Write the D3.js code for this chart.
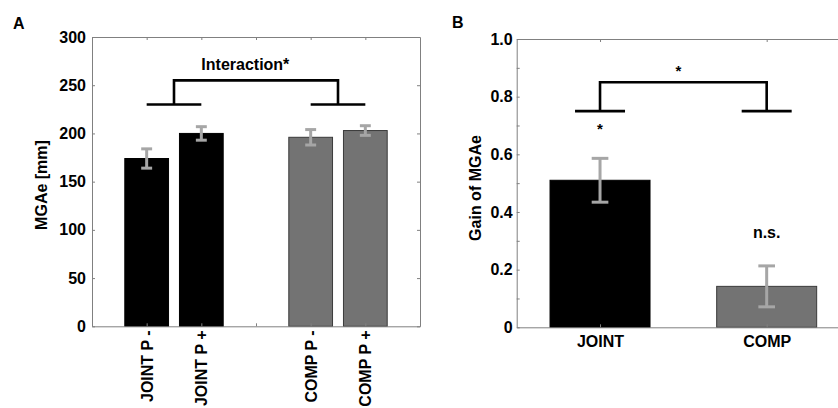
<!DOCTYPE html>
<html>
<head>
<meta charset="utf-8">
<script src="https://cdn.jsdelivr.net/npm/d3@7"></script>
<style>
  body { margin: 0; background: #fff; }
  svg { display: block; font-family: "Liberation Sans", Arial, sans-serif; font-weight: bold; }
  .axis path, .axis line { stroke: #808080; }
  .axis text { font-size: 16px; font-weight: bold; fill: #000; font-family: "Liberation Sans", Arial, sans-serif; }
</style>
</head>
<body>
<svg id="chart" width="838" height="408"></svg>
<script>
// Panel A: MGAe per condition
const slotsA = ["JOINT P -", "JOINT P +", "", "COMP P -", "COMP P +"];
const barsA = ["JOINT P -", "JOINT P +", "COMP P -", "COMP P +"];
const meanA = [174, 200, 196, 203];
const errA = [10, 7, 8, 5];
const groupA = ["JOINT", "JOINT", "COMP", "COMP"];
const ticksA = [0, 50, 100, 150, 200, 250, 300];

// Panel B: gain of MGAe
const barsB = ["JOINT", "COMP"];
const meanB = [0.51, 0.142];
const errB = [0.076, 0.071];
const ticksB = [0, 0.1, 0.2, 0.3, 0.4, 0.5, 0.6, 0.7, 0.8, 0.9, 1.0];

const fillColor = { JOINT: "#000000", COMP: "#737373" };
const edgeColor = { JOINT: "#000000", COMP: "#3a3a3a" };
const errColor = "#a6a6a6";

const svg = d3.select("#chart");
svg.append("rect").attr("width", 838).attr("height", 408).attr("fill", "#fff");

// ---------- Panel A ----------
const xA = d3.scalePoint().domain(slotsA).range([92, 420]).padding(1);
const yA = d3.scaleLinear().domain([0, 300]).range([326.3, 37]);
const stepA = xA.step();

const gA = svg.append("g");

const axA = [
  gA.append("g").attr("class", "axis").attr("transform", "translate(92,0)")
    .call(d3.axisLeft(yA).tickValues(ticksA).tickSize(-3).tickSizeOuter(0).tickPadding(6)),
  gA.append("g").attr("class", "axis").attr("transform", "translate(420,0)")
    .call(d3.axisRight(yA).tickValues(ticksA).tickSize(-3).tickSizeOuter(0).tickFormat("")),
  gA.append("g").attr("class", "axis").attr("transform", "translate(0,37)")
    .call(d3.axisTop(xA).tickSize(-3).tickSizeOuter(0).tickFormat("")),
  gA.append("g").attr("class", "axis").attr("transform", `translate(0,${yA(0)})`)
    .call(d3.axisBottom(xA).tickSize(-3).tickSizeOuter(0))
];
axA[3].selectAll(".tick text")
  .attr("transform", "rotate(-90)")
  .attr("text-anchor", "end")
  .attr("x", -4)
  .attr("y", 0)
  .attr("dy", "0.35em");

gA.selectAll(".barA")
  .data(barsA)
  .enter().append("rect")
  .attr("class", "barA")
  .attr("x", d => xA(d) - stepA * 0.4)
  .attr("width", stepA * 0.8)
  .attr("y", (d, i) => yA(meanA[i]))
  .attr("height", (d, i) => yA(0) - yA(meanA[i]))
  .attr("fill", (d, i) => fillColor[groupA[i]])
  .attr("stroke", (d, i) => edgeColor[groupA[i]])
  .attr("stroke-width", 1);

const errGA = gA.selectAll(".errA").data(barsA).enter().append("g")
  .attr("stroke", errColor).attr("stroke-width", 3).attr("fill", "none");
errGA.append("line")
  .attr("x1", d => xA(d)).attr("x2", d => xA(d))
  .attr("y1", (d, i) => yA(meanA[i] - errA[i])).attr("y2", (d, i) => yA(meanA[i] + errA[i]));
[-1, 1].forEach(s => {
  errGA.append("line")
    .attr("x1", d => xA(d) - stepA * 0.1).attr("x2", d => xA(d) + stepA * 0.1)
    .attr("y1", (d, i) => yA(meanA[i] + s * errA[i])).attr("y2", (d, i) => yA(meanA[i] + s * errA[i]));
});

axA.forEach(a => a.raise());

// interaction bracket
const pA = d3.path();
pA.moveTo(xA("JOINT P -"), yA(230)); pA.lineTo(xA("JOINT P +"), yA(230));
pA.moveTo(xA("COMP P -"), yA(230)); pA.lineTo(xA("COMP P +"), yA(230));
const midA1 = (xA("JOINT P -") + xA("JOINT P +")) / 2;
const midA2 = (xA("COMP P -") + xA("COMP P +")) / 2;
pA.moveTo(midA1, yA(230)); pA.lineTo(midA1, yA(255)); pA.lineTo(midA2, yA(255)); pA.lineTo(midA2, yA(230));
gA.append("path").attr("d", pA.toString()).attr("fill", "none").attr("stroke", "#000").attr("stroke-width", 2.6);

gA.append("text").attr("x", xA("JOINT P +")).attr("y", yA(272)).attr("dy", "0.35em")
  .attr("font-size", 16).text("Interaction*");

// y label A
gA.append("text").attr("transform", "translate(47,185) rotate(-90)")
  .attr("text-anchor", "middle").attr("font-size", 16).text("MGAe [mm]");

svg.append("text").attr("x", 13).attr("y", 29).attr("font-size", 16).text("A");

// ---------- Panel B ----------
const xB = d3.scalePoint().domain(barsB).range([516.7, 850]).padding(0.5);
const yB = d3.scaleLinear().domain([0, 1]).range([327.3, 39]);
const stepB = xB.step();

const gB = svg.append("g");
const fmtB = d => {
  const k = Math.round(d * 10);
  if (k % 2 !== 0) return "";
  return k === 0 ? "0" : d3.format(".1f")(d);
};

const axB = [
  gB.append("g").attr("class", "axis").attr("transform", "translate(516.7,0)")
    .call(d3.axisLeft(yB).tickValues(ticksB).tickSize(-3).tickSizeOuter(0).tickPadding(4).tickFormat(fmtB)),
  gB.append("g").attr("class", "axis").attr("transform", "translate(0,39)")
    .call(d3.axisTop(xB).tickSize(-3).tickSizeOuter(0).tickFormat("")),
  gB.append("g").attr("class", "axis").attr("transform", `translate(0,${yB(0)})`)
    .call(d3.axisBottom(xB).tickSize(-3).tickSizeOuter(0).tickPadding(8))
];
axB[2].selectAll(".tick text").attr("dy", "0.72em");

gB.selectAll(".barB")
  .data(barsB)
  .enter().append("rect")
  .attr("class", "barB")
  .attr("x", d => xB(d) - stepB * 0.3)
  .attr("width", stepB * 0.6)
  .attr("y", (d, i) => yB(meanB[i]))
  .attr("height", (d, i) => yB(0) - yB(meanB[i]))
  .attr("fill", d => fillColor[d])
  .attr("stroke", d => edgeColor[d])
  .attr("stroke-width", 1);

const errGB = gB.selectAll(".errB").data(barsB).enter().append("g")
  .attr("stroke", errColor).attr("stroke-width", 3).attr("fill", "none");
errGB.append("line")
  .attr("x1", d => xB(d)).attr("x2", d => xB(d))
  .attr("y1", (d, i) => yB(meanB[i] - errB[i])).attr("y2", (d, i) => yB(meanB[i] + errB[i]));
[-1, 1].forEach(s => {
  errGB.append("line")
    .attr("x1", d => xB(d) - stepB * 0.05).attr("x2", d => xB(d) + stepB * 0.05)
    .attr("y1", (d, i) => yB(meanB[i] + s * errB[i])).attr("y2", (d, i) => yB(meanB[i] + s * errB[i]));
});

axB.forEach(a => a.raise());

// bracket between groups
const pB = d3.path();
barsB.forEach(b => { pB.moveTo(xB(b) - stepB * 0.15, yB(0.75)); pB.lineTo(xB(b) + stepB * 0.15, yB(0.75)); });
pB.moveTo(xB("JOINT"), yB(0.75)); pB.lineTo(xB("JOINT"), yB(0.85));
pB.lineTo(xB("COMP"), yB(0.85)); pB.lineTo(xB("COMP"), yB(0.75));
gB.append("path").attr("d", pB.toString()).attr("fill", "none").attr("stroke", "#000").attr("stroke-width", 2.6);

const midB = (xB("JOINT") + xB("COMP")) / 2;
gB.append("text").attr("x", midB - 5).attr("y", yB(0.85) - 6).attr("text-anchor", "middle")
  .attr("font-size", 15).text("*");
gB.append("text").attr("x", xB("JOINT")).attr("y", yB(0.75) + 23).attr("text-anchor", "middle")
  .attr("font-size", 15).text("*");
gB.append("text").attr("x", xB("COMP")).attr("y", yB(0.31)).attr("text-anchor", "middle")
  .attr("font-size", 16).text("n.s.");

gB.append("text").attr("transform", "translate(480.5,188) rotate(-90)")
  .attr("text-anchor", "middle").attr("font-size", 16).text("Gain of MGAe");

svg.append("text").attr("x", 452).attr("y", 28).attr("font-size", 16).text("B");
</script>
</body>
</html>
